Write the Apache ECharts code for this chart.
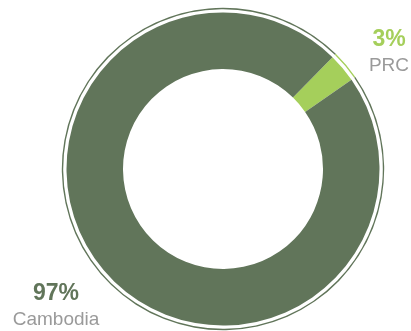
<!DOCTYPE html>
<html>
<head>
<meta charset="utf-8">
<script src="https://cdn.jsdelivr.net/npm/echarts@6/dist/echarts.min.js"></script>
<style>
html,body{margin:0;padding:0;background:#fff;}
#main{width:411px;height:331px;}
</style>
</head>
<body>
<div id="main"></div>
<script>
// data
var names = ['PRC', 'Cambodia'];
var values = [3, 97];
var colors = ['#a5cf5b', '#61755a'];

var pieData = names.map(function (n, i) {
    return { name: n, value: values[i], itemStyle: { color: colors[i] } };
});

// label spots (px) for each slice
var labelPos = [
    { x: 389, y: 52 },
    { x: 56, y: 306 }
];

var myChart = echarts.init(document.getElementById('main'));
myChart.setOption({
    animation: false,
    series: [
        {
            type: 'pie',
            center: [223, 169],
            radius: [100, 156.5],
            startAngle: 45.6,
            data: pieData,
            silent: true,
            avoidLabelOverlap: false,
            itemStyle: { borderWidth: 0 },
            label: {
                show: true,
                position: 'inside',
                overflow: 'none',
                formatter: function (p) {
                    return '{v' + p.dataIndex + '|' + p.value + '%}\n{n|' + p.name + '}';
                },
                fontFamily: 'Liberation Sans',
                align: 'center',
                rich: {
                    v0: { fontSize: 23, fontWeight: 'bold', color: colors[0], lineHeight: 28, fontFamily: 'Liberation Sans', align: 'center' },
                    v1: { fontSize: 23, fontWeight: 'bold', color: colors[1], lineHeight: 28, fontFamily: 'Liberation Sans', align: 'center' },
                    n: { fontSize: 19, color: '#9a9a9a', lineHeight: 24, fontFamily: 'Liberation Sans', align: 'center' }
                }
            },
            labelLine: { show: false },
            labelLayout: function (params) {
                var pos = labelPos[params.dataIndex];
                return { x: pos.x, y: pos.y, align: 'center', verticalAlign: 'middle', hideOverlap: false };
            }
        },
        {
            // thin outer ring
            type: 'pie',
            center: [223, 169],
            radius: [159.8, 161.2],
            startAngle: 45.6,
            data: pieData,
            silent: true,
            itemStyle: { borderWidth: 0 },
            label: { show: false },
            labelLine: { show: false }
        }
    ]
});
</script>
</body>
</html>
